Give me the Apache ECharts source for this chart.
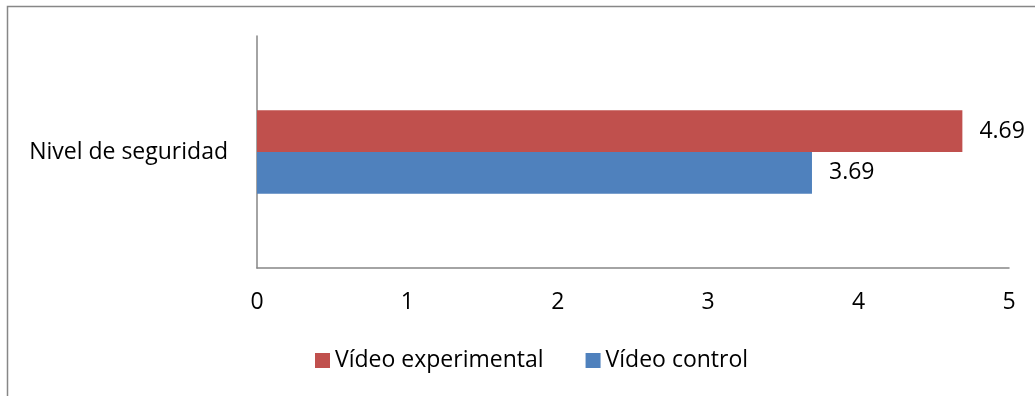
<!DOCTYPE html>
<html>
<head>
<meta charset="utf-8">
<script src="https://cdn.jsdelivr.net/npm/echarts@6/dist/echarts.min.js"></script>
<style>
  html, body { margin: 0; padding: 0; background: #fff; }
  #chart { width: 1035px; height: 396px; }
</style>
</head>
<body>
<div id="chart"></div>
<script>
const categories = ['Nivel de seguridad'];
const seriesNames = ['Vídeo experimental', 'Vídeo control'];
const experimentalValues = [4.69];
const controlValues = [3.69];
const xTicks = [0, 1, 2, 3, 4, 5];

const FONT = '"Open Sans"';
const FONT_SIZE = 23;
const chart = echarts.init(document.getElementById('chart'), null, { renderer: 'canvas' });

const valueLabel = {
  show: true,
  position: 'right',
  distance: 17,
  color: '#000',
  fontFamily: FONT,
  fontSize: FONT_SIZE,
  formatter: p => p.value.toFixed(2)
};

chart.setOption({
  animation: false,
  backgroundColor: '#fff',
  graphic: [{
    type: 'rect',
    shape: { x: 7.5, y: 6.5, width: 1100, height: 500 },
    style: { fill: 'none', stroke: '#878787', lineWidth: 1.5 },
    silent: true
  }],
  grid: { left: 257, top: 36, width: 752, height: 232 },
  legend: {
    data: seriesNames,
    left: 310, top: 344,
    itemWidth: 15, itemHeight: 15, itemGap: 42,
    icon: 'rect',
    textStyle: { fontFamily: FONT, fontSize: FONT_SIZE, color: '#000' }
  },
  xAxis: {
    type: 'value',
    min: xTicks[0], max: xTicks[xTicks.length - 1], interval: 1,
    axisLine: { show: true, lineStyle: { color: '#868686', width: 1.5 } },
    axisTick: { show: false },
    splitLine: { show: false },
    axisLabel: { color: '#000', fontFamily: FONT, fontSize: FONT_SIZE, margin: 23 }
  },
  yAxis: {
    type: 'category',
    data: categories,
    inverse: true,
    axisLine: { show: true, lineStyle: { color: '#868686', width: 1.5 } },
    axisTick: { show: false },
    axisLabel: { color: '#000', fontFamily: FONT, fontSize: FONT_SIZE, margin: 29 }
  },
  series: [{
    name: seriesNames[0],
    type: 'bar',
    data: experimentalValues,
    barGap: '0%',
    barCategoryGap: '64%',
    itemStyle: { color: '#C0504D' },
    label: valueLabel
  }, {
    name: seriesNames[1],
    type: 'bar',
    data: controlValues,
    barGap: '0%',
    barCategoryGap: '64%',
    itemStyle: { color: '#4F81BD' },
    label: valueLabel
  }]
});
</script>
</body>
</html>
